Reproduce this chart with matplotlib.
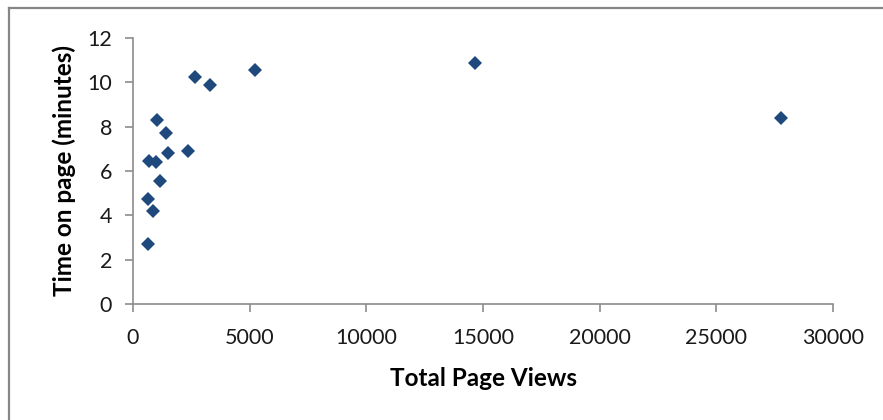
import matplotlib
matplotlib.use("Agg")
import matplotlib.pyplot as plt
from matplotlib.lines import Line2D

# page views vs. average time on page
page_views = [655, 655, 869, 684, 983, 1013, 1168, 1397, 1510, 2365, 2650, 3290, 5214, 14660, 27762]
minutes = [2.71, 4.73, 4.18, 6.46, 6.40, 8.28, 5.57, 7.72, 6.83, 6.88, 10.22, 9.87, 10.55, 10.85, 8.41]

x_ticks = [0, 5000, 10000, 15000, 20000, 25000, 30000]
y_ticks = [0, 2, 4, 6, 8, 10, 12]

plt.rcParams['font.family'] = ['Lato', 'DejaVu Sans']

fig = plt.figure(figsize=(8.83, 4.2), dpi=100)
ax = fig.add_axes([133/883, 1 - 304/420, 700/883, 266/420])

ax.plot(page_views, minutes, linestyle='none', marker='D', markersize=7,
        color='#1F497D', markeredgewidth=0)

ax.set_xlim(0, 30000)
ax.set_ylim(0, 12)
ax.set_xticks(x_ticks)
ax.set_yticks(y_ticks)

for side in ['top', 'right']:
    ax.spines[side].set_visible(False)
for side in ['left', 'bottom']:
    ax.spines[side].set_color('#8c8c8c')
    ax.spines[side].set_linewidth(1.2)

ax.tick_params(axis='both', direction='out', length=6, width=1.2, color='#8c8c8c',
               labelsize=15.5, labelcolor='#1a1a1a')
ax.tick_params(axis='x', pad=11)
ax.tick_params(axis='y', pad=9)

ax.set_xlabel('Total Page Views', fontsize=17.5, fontweight='bold', labelpad=14)
ax.set_ylabel('Time on page (minutes)', fontsize=17.5, fontweight='bold', labelpad=8)

# chart area frame (only the top and left edges fall inside the image)
fig.add_artist(Line2D([9/883, 9/883], [0, 1 - 8/420], transform=fig.transFigure,
                      color='#868686', linewidth=1.6))
fig.add_artist(Line2D([9/883, 1], [1 - 8/420, 1 - 8/420], transform=fig.transFigure,
                      color='#868686', linewidth=1.6))

fig.savefig('out.png', dpi=100)
